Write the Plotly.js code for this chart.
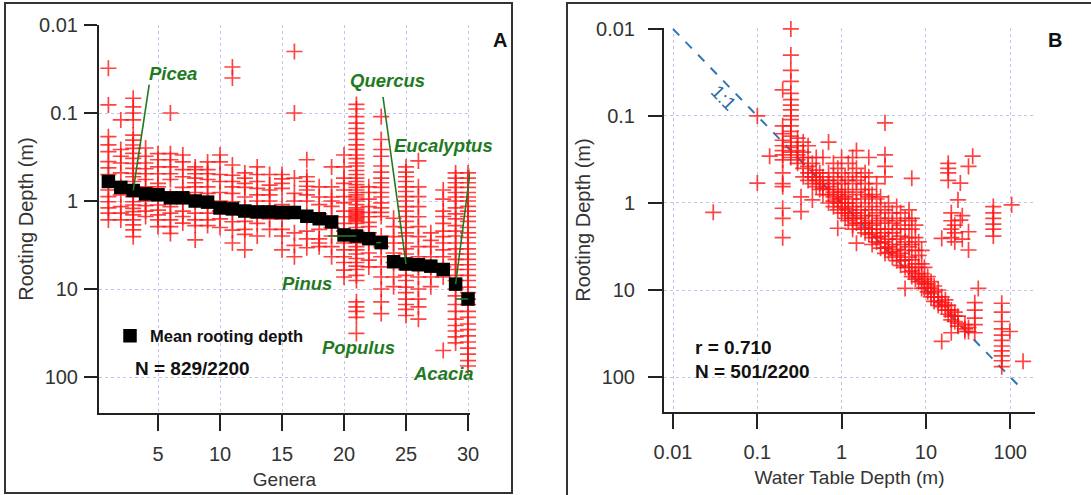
<!DOCTYPE html>
<html><head><meta charset="utf-8">
<script src="https://cdn.plot.ly/plotly-3.0.1.min.js"></script>
<style>html,body{margin:0;padding:0;background:#fff}#chart{width:1091px;height:495px}</style>
</head><body><div id="chart"></div>
<script>
// ---------- Panel A data: rooting depth (m) per genus ----------
const genera = [1,2,3,4,5,6,7,8,9,10,11,12,13,14,15,16,17,18,19,20,21,22,23,24,25,26,27,28,29,30];
const meanRootingDepth = [0.60,0.70,0.76,0.83,0.85,0.92,0.92,1.0,1.03,1.2,1.23,1.3,1.33,1.33,1.35,1.35,1.49,1.59,1.73,2.43,2.5,2.68,2.97,4.9,5.2,5.3,5.5,6.0,8.8,13];

const g01 = [0.031,0.081,0.186,0.23,0.275,0.357,0.42,0.5,0.75,0.89,1.02,1.2,1.37,1.64];
const g02 = [0.12,0.26,0.31,0.37,0.48,0.69,0.85,1.16,1.37,1.64];
const g03 = [0.068,0.085,0.1,0.12,0.178,0.203,0.231,0.252,0.287,0.327,0.373,0.425,0.485,0.53,0.6,0.69,0.78,0.89,1.02,1.11,1.21,1.32,1.44,1.64,1.87,2.13,2.54];
const g04 = [0.25,0.31,0.37,0.43,0.49,0.57,0.69,1.0,1.13,1.3,1.5];
const g05 = [0.29,0.34,0.41,0.49,0.63,0.69,0.89,1.11,1.27,1.44,1.64,1.96];
const g06 = [0.1,0.29,0.34,0.41,0.49,0.57,0.89,1.16,1.37,1.64,1.96,2.33];
const g07 = [0.3,0.36,0.44,0.53,0.7,0.82,1.02,1.3,1.5,1.78];
const g08 = [0.41,0.44,0.49,0.55,0.62,0.69,0.8,1.02,1.37,1.64,1.9,2.77];
const g09 = [0.36,0.44,0.49,0.57,0.69,0.82,1.02,1.1,1.37,1.64,1.9];
const g10 = [0.3,0.36,0.5,0.6,0.8,1.0,1.3,1.6,2.0];
const g11 = [0.03,0.04,0.39,0.51,0.6,0.69,0.82,1.02,1.38,1.72,2.14,3.0];
const g12 = [0.48,0.55,0.63,0.7,0.9,1.2,1.45,1.7,2.1,2.4,3.6];
const g13 = [0.41,0.5,0.6,0.72,0.85,1.0,1.2,1.55,1.8,2.5];
const g14 = [0.5,0.66,0.75,0.85,1.0,1.3,1.6,2.1];
const g15 = [0.5,0.56,0.63,0.72,1.1,1.6,2.1,2.5,3.6];
const g16 = [0.02,0.1,0.55,0.82,1.0,2.3,3.2,4.3];
const g17 = [0.34,0.53,0.6,0.68,0.75,0.85,1.0,1.5,2.2,2.7,3.4];
const g18 = [0.69,0.9,1.1,1.4,2.1,2.7,3.0,3.3];
const g19 = [0.41,0.69,0.9,1.0,1.15,1.5,2.0,2.5,3.3,4.3];
const g20 = [0.3,0.41,0.55,0.63,0.75,0.89,1.05,1.3,1.51,1.8,2.2,2.5,3.0,3.6,4.3,5.0,6.1,7.3];
const g21 = [0.08,0.09,0.11,0.13,0.15,0.17,0.2,0.23,0.26,0.3,0.33,0.37,0.4,0.45,0.5,0.55,0.6,0.65,0.7,0.75,0.8,0.85,0.9,0.95,1.0,1.1,1.2,1.25,1.3,1.35,1.4,1.45,1.5,1.55,1.6,1.65,1.7,1.8,2.0,2.2,2.4,2.6,2.8,3.0,3.3,3.6,4.0,4.5,5.0,5.5,6.0,7.0,8.0,14,16,18,21,32];
const g22 = [0.69,0.8,0.95,1.16,1.35,1.51,1.75,1.96,2.3,2.54,3.0,3.9,4.7,5.6];
const g23 = [0.11,0.2,0.26,0.31,0.4,0.47,0.55,0.62,0.7,0.8,0.9,1.05,1.2,1.35,1.5,2.5,3.3,4.3,5.6,7.3,10,14,19];
const g24 = [1.57,1.96,2.54,3.0,3.9,5.0,7.3,9.4];
const g25 = [0.41,0.47,0.53,0.6,0.69,0.78,0.89,1.0,1.16,1.3,1.5,1.7,2.0,2.3,2.5,3.0,3.5,4.0,4.5,5.0,6.0,7.0,8.0,9.5,11,13,15,17,20];
const g26 = [0.35,0.69,0.89,1.16,1.51,1.96,2.54,3.3,4.3,5.6,7.3,10,13,16,22];
const g27 = [2.3,2.8,3.3,4.3,5.6,7.3,9.4];
const g28 = [0.75,0.95,1.3,1.5,1.8,2.2,2.54,3.0,3.6,4.3,5.6,7.3,50];
const g29 = [0.48,0.55,0.62,0.7,0.8,0.9,1.0,1.2,1.4,1.6,1.9,2.2,2.5,3.0,3.5,4.0,4.6,5.3,6.0,7.0,8.0,10,12,15,18,22,26,30,35,41];
const g30 = [0.48,0.55,0.62,0.7,0.8,0.9,1.0,1.15,1.3,1.5,1.7,2.0,2.3,2.6,3.0,3.5,4.0,4.6,5.3,6.0,7.0,8.0,9.5,11,13,15,18,21,25,29,34,40,47,55,65,75];
const genusSamples = [g01,g02,g03,g04,g05,g06,g07,g08,g09,g10,g11,g12,g13,g14,g15,g16,g17,g18,g19,g20,g21,g22,g23,g24,g25,g26,g27,g28,g29,g30];

// labelled genera (genus number)
const labelNames = ['Picea','Quercus','Eucalyptus','Pinus','Populus','Acacia'];
const labelGenus = [3,25,29,21,23,30];

// ---------- Panel B data: water table depth (m) vs rooting depth (m) ----------
const wtColumns = [0.03,0.1,0.14,0.2,0.25,0.3,0.33,0.35,0.4,0.45,0.5,0.55,0.6,0.7,0.8,0.9,1.0,1.1,1.2,1.35,1.5,1.7,1.9,2.1,2.3,2.6,2.9,3.27,3.6,4.0,4.5,5.0,5.66,6.3,6.8,7.5,8.2,8.9,9.6,10.5,11.5,12.5,14,15.4,17,18.4,20,22,24,25.6,27,29,32,35.9,38,41.8,63,79.4,99,104,142];
const rdColumns = [
 [1.28],
 [0.1,0.59],
 [0.29],
 [0.05,0.13,0.16,0.19,0.22,0.25,0.28,0.32,0.45,0.6,0.65,1.15,1.5,2.5],
 [0.01,0.02,0.03,0.04,0.055,0.065,0.075,0.085,0.1,0.11,0.13,0.15,0.17,0.2,0.23,0.26,0.3],
 [0.18,0.22,0.25,0.28,0.32,0.35],
 [0.85,1.26],
 [0.2,0.26,0.3,0.4,0.5],
 [0.22,0.3,0.38,0.45,0.55],
 [0.35,0.45,0.5,0.6,0.92],
 [0.3,0.42,0.5,0.55,0.65],
 [0.45,0.55,0.6,0.7],
 [0.3,0.5,0.6,0.68,0.8],
 [0.2,0.45,0.55,0.65,0.7,0.8,1.0],
 [0.35,0.5,0.6,0.75,0.85,0.95,1.1],
 [0.4,0.55,0.7,0.8,0.9,1.0,1.2,1.95],
 [0.3,0.45,0.6,0.75,0.9,1.0,1.1,1.3],
 [0.5,0.7,0.85,1.0,1.15,1.3,1.5],
 [0.35,0.55,0.8,1.0,1.2,1.4,1.6],
 [0.3,0.45,0.6,0.9,1.1,1.3,1.5,1.8,2.0],
 [0.25,0.4,0.55,0.75,1.0,1.3,1.5,1.7,2.9],
 [0.5,0.7,0.9,1.2,1.5,1.7,2.0],
 [0.45,0.6,0.8,1.1,1.4,1.7,1.9,2.2],
 [0.3,0.5,0.7,0.85,1.2,1.6,2.0,2.3],
 [0.8,1.0,1.4,1.8,2.2,2.5,3.0],
 [0.6,0.9,1.3,1.7,2.0,2.5,2.8],
 [0.85,1.1,1.5,2.0,2.4,2.9,3.3],
 [0.12,0.28,0.38,0.5,1.2,1.6,2.2,2.8,3.3,3.8],
 [1.0,1.5,2.0,2.6,3.2,3.7],
 [1.3,1.7,2.2,3.0,3.6,4.2],
 [1.1,1.6,2.0,2.6,3.4,4.0,4.6],
 [1.3,1.8,2.4,3.0,3.8,4.6,5.2],
 [1.5,2.0,2.8,3.5,4.5,5.5,9.6],
 [1.2,1.6,2.5,3.2,4.2,5.5,6.2],
 [0.52,1.5,2.0,3.0,4.5,6.0,7.0],
 [1.8,2.5,3.5,5.0,6.5,7.5],
 [2.8,4.0,5.5,7.0,8.0],
 [3.5,5.0,6.5,8.0,9.6],
 [5.5,7.5,8.5,9.5],
 [7.0,8.5,9.5,10.5],
 [8.0,9.5,11,12],
 [9.0,10.5,12,13.5],
 [10,12,13.5,15],
 [2.55,12,14,15.5,39],
 [13,15,17],
 [0.35,0.4,0.45,0.55,15,17,19],
 [1.3,1.6,2.0,2.5,17,20,22,31],
 [1.8,2.2,2.8,18,20,23],
 [0.92,20,24,26],
 [0.59,1.57],
 [1.4,2.6],
 [25,28,30],
 [0.38,2.14,3.47,27,30],
 [0.29],
 [14,17,21,25,31],
 [9.6],
 [1.1,1.3,1.5,1.75,2.0,2.4],
 [14.2,18,23,28,33,38,44,50,57,65,76],
 [30],
 [1.05],
 [66]
];
const oneToOne = [0.01, 145];

// ---------- build traces ----------
const ax = [], ay = [];
genusSamples.forEach((vals, i) => vals.forEach(v => { ax.push(genera[i]); ay.push(v); }));
const bx = [], by = [];
wtColumns.forEach((w, i) => rdColumns[i].forEach(r => { bx.push(w); by.push(r); }));

const red = 'rgba(255,20,20,0.8)';
const crossMarker = {symbol:'cross-thin-open', size:11.5, color:red, line:{width:1.7, color:red}};
const traces = [
  {x: ax, y: ay, xaxis:'x', yaxis:'y', type:'scatter', mode:'markers', showlegend:false, cliponaxis:false, marker:crossMarker},
  {x: genera, y: meanRootingDepth, xaxis:'x', yaxis:'y', type:'scatter', mode:'markers', name:'<b>Mean rooting depth</b>',
   showlegend:true, cliponaxis:false, marker:{symbol:'square', size:13.5, color:'#000'}},
  {x: oneToOne, y: oneToOne, xaxis:'x2', yaxis:'y2', type:'scatter', mode:'lines', showlegend:false, cliponaxis:false,
   line:{color:'#2f78b4', width:2, dash:'dash'}},
  {x: bx, y: by, xaxis:'x2', yaxis:'y2', type:'scatter', mode:'markers', showlegend:false, cliponaxis:false, marker:crossMarker}
];

// ---------- layout ----------
const W = 1091, H = 495;
const px = v => v / W, py = v => 1 - v / H;
const FONT = 'Liberation Sans, Arial, sans-serif';
const grid = 'rgba(175,175,235,0.75)';
const axCommon = {
  showline:true, linewidth:2, linecolor:'#222', ticks:'outside', tickwidth:2, tickcolor:'#222',
  showgrid:true, gridcolor:grid, griddash:'dot', gridwidth:1, zeroline:false,
  tickfont:{size:20, color:'#333', family:FONT}, mirror:false, fixedrange:true
};
const decadeVals = [0.01,0.1,1,10,100];
const decadeText = ['0.01','0.1','1','10','100'];

const green = '#1f7a22';
const labelPos = [[173,73],[387,80],[443,145],[307,283],[358,347],[443,373]];
const leaderOff = [[16,106],[-23,167],[16,124],[-28,-39],[-5,-94],[-12,-64]];

const annotations = labelNames.map((t, i) => ({
  text:'<b><i>'+t+'</i></b>', xref:'paper', yref:'paper', x:px(labelPos[i][0]), y:py(labelPos[i][1]),
  xanchor:'center', yanchor:'middle', showarrow:false, font:{size:18.5, color:green, family:FONT}
}));
annotations.push(
  {text:'<b>N = 829/2200</b>', xref:'paper', yref:'paper', x:px(133), y:py(368), xanchor:'left', yanchor:'middle', showarrow:false, font:{size:19, color:'#111', family:FONT}},
  {text:'<b>r = 0.710</b>', xref:'paper', yref:'paper', x:px(693), y:py(347), xanchor:'left', yanchor:'middle', showarrow:false, font:{size:19, color:'#111', family:FONT}},
  {text:'<b>N = 501/2200</b>', xref:'paper', yref:'paper', x:px(693), y:py(371), xanchor:'left', yanchor:'middle', showarrow:false, font:{size:19, color:'#111', family:FONT}},
  {text:'<b>A</b>', xref:'paper', yref:'paper', x:px(500), y:py(40), xanchor:'center', yanchor:'middle', showarrow:false, font:{size:20, color:'#111', family:FONT}},
  {text:'<b>B</b>', xref:'paper', yref:'paper', x:px(1055), y:py(40), xanchor:'center', yanchor:'middle', showarrow:false, font:{size:20, color:'#111', family:FONT}},
  {text:'1:1', xref:'paper', yref:'paper', x:px(723), y:py(98), xanchor:'center', yanchor:'middle', textangle:46, showarrow:false, font:{size:19, color:'#2a6aa6', family:FONT}}
);

const shapes = labelGenus.map((g, i) => ({
  type:'line', xref:'x', yref:'y', xsizemode:'pixel', ysizemode:'pixel',
  xanchor:g, yanchor:meanRootingDepth[g-1], x0:0, y0:0, x1:leaderOff[i][0], y1:leaderOff[i][1],
  line:{color:green, width:1.6}
}));
shapes.push(
  {type:'rect', xref:'paper', yref:'paper', x0:px(5), x1:px(512), y0:py(493), y1:py(3), line:{color:'#333', width:2}, layer:'below'},
  {type:'rect', xref:'paper', yref:'paper', x0:px(567), x1:1.05, y0:-0.05, y1:py(3), line:{color:'#333', width:2}, layer:'below'}
);

const layout = {
  width:W, height:H, margin:{l:0,r:0,t:0,b:0}, paper_bgcolor:'#fff', plot_bgcolor:'rgba(0,0,0,0)',
  font:{family:FONT, color:'#222'},
  xaxis: Object.assign({}, axCommon, {domain:[px(99), px(470)], range:[0.242, 30.16], tickvals:[5,10,15,20,25,30],
    ticklen:16, ticklabelstandoff:6, anchor:'y',
    title:{text:'Genera', font:{size:19, color:'#333', family:FONT}, standoff:9}}),
  yaxis: Object.assign({}, axCommon, {domain:[py(413), py(25)], type:'log', range:[2.409, -2], tickvals:decadeVals, ticktext:decadeText,
    ticklen:13, ticklabelstandoff:2, anchor:'x',
    title:{text:'Rooting Depth (m)', font:{size:20, color:'#333', family:FONT}, standoff:0}}),
  xaxis2: Object.assign({}, axCommon, {domain:[px(664), px(1035)], type:'log', range:[-2.107, 2.294], tickvals:decadeVals, ticktext:decadeText,
    ticklen:15, ticklabelstandoff:6, anchor:'y2',
    title:{text:'Water Table Depth (m)', font:{size:19, color:'#333', family:FONT}, standoff:9}}),
  yaxis2: Object.assign({}, axCommon, {domain:[py(412), py(28)], type:'log', range:[2.402, -2.011], tickvals:decadeVals, ticktext:decadeText,
    ticklen:14, ticklabelstandoff:9, anchor:'x2',
    title:{text:'Rooting Depth (m)', font:{size:20, color:'#333', family:FONT}, standoff:0}}),
  legend:{x:px(110), y:py(336), xanchor:'left', yanchor:'middle', bgcolor:'rgba(0,0,0,0)', borderwidth:0,
    font:{size:16.5, color:'#111', family:FONT}},
  annotations: annotations,
  shapes: shapes
};

Plotly.newPlot('chart', traces, layout, {displayModeBar:false, staticPlot:true});
</script></body></html>
